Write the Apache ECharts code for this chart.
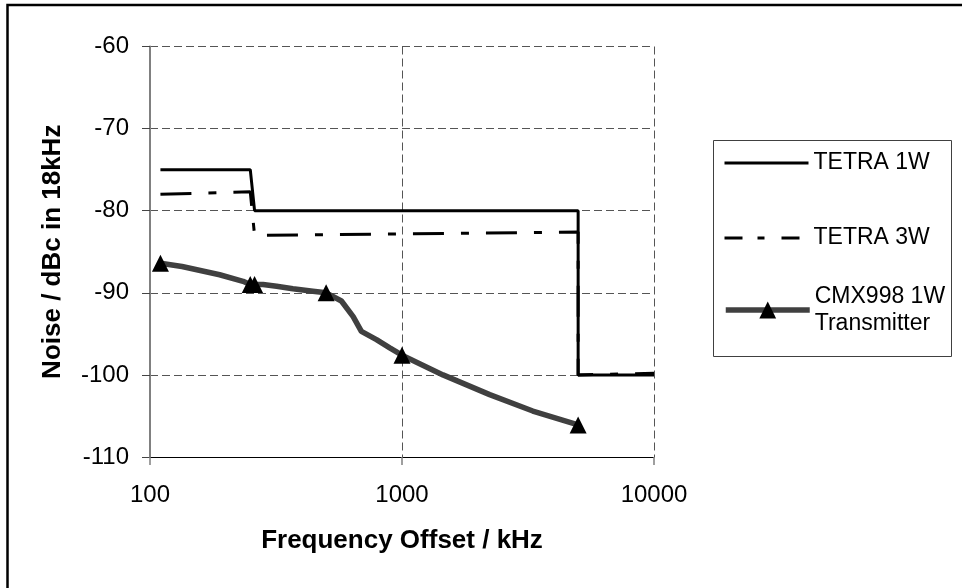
<!DOCTYPE html>
<html>
<head>
<meta charset="utf-8">
<script src="https://cdn.jsdelivr.net/npm/echarts@6/dist/echarts.min.js"></script>
<style>
  html, body { margin: 0; padding: 0; background: #fff; }
  #chart { width: 962px; height: 588px; }
</style>
</head>
<body>
<div id="chart"></div>
<script>
// Frequency offsets (kHz) and noise levels (dBc in 18 kHz)
var tetra1wFreq = [110, 250, 260, 5000, 5000, 10000];
var tetra1wNoise = [-75, -75, -80, -80, -100, -100];

var tetra3wFreq = [110, 250, 260, 5000, 5000, 10000];
var tetra3wNoise = [-78, -77.7, -83, -82.6, -100, -99.8];

// Measured CMX998 curve; markers flag the measured points with triangles
var cmxFreq = [110, 134, 189, 234, 250, 260, 281, 318, 369, 443, 500, 575, 640, 690, 792, 894, 1000, 1454, 2228, 3304, 5000];
var cmxNoise = [-86.4, -86.8, -87.8, -88.6, -89.0, -89.0, -89.0, -89.2, -89.5, -89.8, -90.0, -91.0, -92.9, -94.7, -95.7, -96.7, -97.6, -100.0, -102.4, -104.4, -106.1];
var cmxMarker = [1, 0, 0, 0, 1, 1, 0, 0, 0, 0, 1, 0, 0, 0, 0, 0, 1, 0, 0, 0, 1];

var yTicks = { min: -110, max: -60, step: 10 };
var xTicks = { min: 100, max: 10000 };

var seriesNames = ['TETRA 1W', 'TETRA 3W', 'CMX998 1W'];
var cmxLegendText = 'CMX998 1W\nTransmitter';

function pairs(xs, ys) {
  return xs.map(function (x, i) { return [x, ys[i]]; });
}

var cmxData = cmxFreq.map(function (f, i) {
  var item = { value: [f, cmxNoise[i]] };
  if (!cmxMarker[i]) item.symbol = 'none';
  return item;
});

var FONT = '"Liberation Sans", Arial, sans-serif';
var gridDash = { color: '#555', width: 1, type: [8, 4] };

var solidStyle = { color: '#000', width: 3 };
var dashDotStyle = { color: '#000', width: 3, type: [31, 17, 8, 17] };
var cmxStyle = { color: '#404040', width: 5.5 };

var chart = echarts.init(document.getElementById('chart'), null, { renderer: 'canvas' });

var legendBase = {
  orient: 'vertical',
  itemWidth: 84,
  itemHeight: 21,
  itemGap: 0,
  padding: 0,
  selectedMode: false,
  textStyle: { fontFamily: FONT, fontSize: 23, color: '#000', lineHeight: 27 }
};

function legendAt(name, top, extra) {
  return Object.assign({}, legendBase, { left: 723, top: top, data: [name] }, extra || {});
}

chart.setOption({
  animation: false,
  backgroundColor: '#fff',
  grid: { left: 150, top: 46.5, right: 308, bottom: 131, containLabel: false },
  xAxis: {
    type: 'log',
    logBase: 10,
    min: xTicks.min,
    max: xTicks.max,
    name: 'Frequency Offset / kHz',
    nameLocation: 'middle',
    nameGap: 71,
    nameTextStyle: { fontFamily: FONT, fontSize: 26, fontWeight: 'bold', color: '#000' },
    axisLine: { onZero: false, lineStyle: { color: '#000', width: 1 } },
    axisTick: { show: true, length: 8, lineStyle: { color: '#808080', width: 1.5 } },
    axisLabel: {
      fontFamily: FONT, fontSize: 24, color: '#000', margin: 26, lineHeight: 24,
      formatter: function (v) { return String(Math.round(v)); }
    },
    splitLine: { show: true, lineStyle: gridDash },
    minorTick: { show: false },
    minorSplitLine: { show: false }
  },
  yAxis: {
    type: 'value',
    min: yTicks.min,
    max: yTicks.max,
    interval: yTicks.step,
    name: 'Noise / dBc in 18kHz',
    nameLocation: 'middle',
    nameGap: 84,
    nameRotate: 90,
    nameTextStyle: { fontFamily: FONT, fontSize: 26, fontWeight: 'bold', color: '#000' },
    axisLine: { show: true, lineStyle: { color: '#808080', width: 2 } },
    axisTick: { show: true, length: 8, lineStyle: { color: '#444', width: 1 } },
    axisLabel: { fontFamily: FONT, fontSize: 24, color: '#000', margin: 21 },
    splitLine: { show: true, lineStyle: gridDash }
  },
  legend: [
    legendAt(seriesNames[0], 149.5, {
      itemStyle: { opacity: 0 },
      lineStyle: { color: '#000', width: 3 }
    }),
    legendAt(seriesNames[1], 224.5, {
      itemStyle: { opacity: 0 },
      lineStyle: { color: '#000', width: 3, type: [18, 15, 7, 17] }
    }),
    legendAt(seriesNames[2], 269.5, {
      lineStyle: { color: '#404040', width: 5.5 },
      formatter: function () { return cmxLegendText; },
      textStyle: Object.assign({}, legendBase.textStyle, { padding: [27, 0, 0, 0] })
    })
  ],
  graphic: [
    {
      type: 'rect', silent: true, z: 100,
      shape: { x: 713.5, y: 140.5, width: 238, height: 216 },
      style: { fill: 'none', stroke: '#404040', lineWidth: 1 }
    },
    {
      type: 'rect', silent: true, z: 100,
      shape: { x: 7.5, y: 5, width: 2000, height: 2000 },
      style: { fill: 'none', stroke: '#000', lineWidth: 2.5 }
    }
  ],
  series: [
    {
      name: seriesNames[0],
      type: 'line',
      data: pairs(tetra1wFreq, tetra1wNoise),
      symbol: 'none',
      lineStyle: solidStyle,
      itemStyle: { color: '#000' },
      z: 3
    },
    {
      name: seriesNames[1],
      type: 'line',
      data: pairs(tetra3wFreq, tetra3wNoise),
      symbol: 'none',
      lineStyle: dashDotStyle,
      itemStyle: { color: '#000' },
      z: 4
    },
    {
      name: seriesNames[2],
      type: 'line',
      data: cmxData,
      symbol: 'triangle',
      symbolSize: 17,
      showAllSymbol: true,
      lineStyle: cmxStyle,
      itemStyle: { color: '#000' },
      z: 5
    }
  ]
});
</script>
</body>
</html>
